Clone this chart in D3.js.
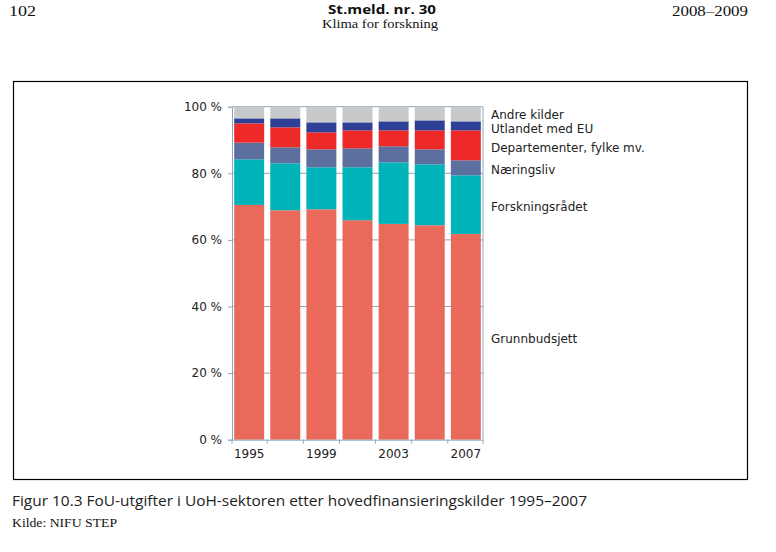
<!DOCTYPE html>
<html>
<head>
<meta charset="utf-8">
<script src="https://cdn.jsdelivr.net/npm/d3@7"></script>
<style>
  html, body { margin: 0; padding: 0; background: #fff; }
  svg { display: block; }
</style>
</head>
<body>
<svg id="chart" width="776" height="552"></svg>
<script>
const years = ["1995", "1997", "1999", "2001", "2003", "2005", "2007"];
const yearLabels = ["1995", "", "1999", "", "2003", "", "2007"];
const seriesNames = ["Grunnbudsjett", "Forskningsrådet", "Næringsliv", "Departementer, fylke mv.", "Utlandet med EU", "Andre kilder"];
const grunnbudsjett   = [70.5, 68.9, 69.2, 65.9, 64.8, 64.4, 61.8];
const forskningsradet = [13.7, 14.1, 12.6, 15.9, 18.5, 18.3, 17.6];
const naeringsliv     = [5.0, 4.8, 5.4, 5.7, 4.8, 4.5, 4.5];
const departementer   = [5.8, 6.0, 5.1, 5.4, 4.8, 5.7, 9.0];
const utlandet        = [1.5, 2.7, 3.0, 2.4, 2.7, 3.0, 2.7];
const andreKilder     = [3.5, 3.5, 4.7, 4.7, 4.4, 4.1, 4.4];
const yTicks = [0, 20, 40, 60, 80, 100];

const seriesValues = [grunnbudsjett, forskningsradet, naeringsliv, departementer, utlandet, andreKilder];
const colors = ["#E96A5A", "#00B3B8", "#5C6F9E", "#EE2A28", "#2E3F96", "#C8C9CB"];

const table = years.map((yr, i) => {
  const row = { year: yr };
  seriesNames.forEach((s, j) => row[s] = seriesValues[j][i]);
  return row;
});

const svg = d3.select("#chart");
const axisColor = "#8FA7BE";

// frame
svg.append("rect").attr("x", 13.5).attr("y", 81.5).attr("width", 734).attr("height", 398)
  .attr("fill", "none").attr("stroke", "#000").attr("stroke-width", 1.2);

// header
svg.append("text").attr("x", 9).attr("y", 16).attr("font-family", "Liberation Serif").attr("font-size", 15)
  .attr("textLength", 27).attr("lengthAdjust", "spacingAndGlyphs").attr("fill", "#111").text("102");
svg.append("text").attr("x", 672).attr("y", 16).attr("font-family", "Liberation Serif").attr("font-size", 15)
  .attr("textLength", 76).attr("lengthAdjust", "spacingAndGlyphs").attr("fill", "#111").text("2008–2009");
svg.append("text").attr("x", 328).attr("y", 13.5).attr("font-family", "Open Sans").attr("font-weight", "bold").attr("font-size", 13)
  .attr("textLength", 108).attr("lengthAdjust", "spacingAndGlyphs").attr("fill", "#111").text("St.meld. nr. 30");
svg.append("text").attr("x", 322).attr("y", 28).attr("font-family", "Liberation Serif").attr("font-size", 12.5)
  .attr("textLength", 116).attr("lengthAdjust", "spacingAndGlyphs").attr("fill", "#111").text("Klima for forskning");

// caption
svg.append("text").attr("x", 12).attr("y", 506).attr("font-family", "Open Sans").attr("font-size", 14.5)
  .attr("textLength", 575).attr("lengthAdjust", "spacingAndGlyphs").attr("fill", "#222")
  .text("Figur 10.3  FoU-utgifter i UoH-sektoren etter hovedfinansieringskilder 1995–2007");
svg.append("text").attr("x", 12).attr("y", 527).attr("font-family", "Liberation Serif").attr("font-size", 12.5)
  .attr("textLength", 105).attr("lengthAdjust", "spacingAndGlyphs").attr("fill", "#111")
  .text("Kilde: NIFU STEP");

// scales
const x = d3.scaleBand().domain(years).range([232, 483]).paddingInner(0.17).paddingOuter(0.06);
const y = d3.scaleLinear().domain([0, 100]).range([439.7, 106.7]);

// gridlines
svg.append("g").selectAll("line").data(yTicks.filter(t => t > 0)).join("line")
  .attr("x1", 232).attr("x2", 483).attr("y1", d => y(d)).attr("y2", d => y(d))
  .attr("stroke", axisColor).attr("stroke-width", 1);
// right border
svg.append("line").attr("x1", 483).attr("x2", 483).attr("y1", y(100)).attr("y2", y(0))
  .attr("stroke", axisColor).attr("stroke-width", 1);

// stacks
const stack = d3.stack().keys(seriesNames);
const stacked = stack(table);
svg.append("g").selectAll("g").data(stacked).join("g")
  .attr("fill", (d, i) => colors[i])
  .selectAll("rect").data(d => d).join("rect")
  .attr("x", d => x(d.data.year))
  .attr("width", x.bandwidth())
  .attr("y", d => y(d[1]))
  .attr("height", d => y(d[0]) - y(d[1]));

// y axis
const yAxis = svg.append("g").attr("transform", "translate(232,0)")
  .call(d3.axisLeft(y).tickValues(yTicks).tickSize(4).tickPadding(6).tickFormat(d => d + " %"));
yAxis.select(".domain").attr("stroke", axisColor);
yAxis.selectAll(".tick line").attr("stroke", axisColor);
yAxis.selectAll("text").attr("font-family", "DejaVu Sans").attr("font-size", 12).attr("fill", "#222");

// x axis
const xAxisG = svg.append("g").attr("transform", "translate(0," + y(0) + ")")
  .call(d3.axisBottom(x).tickSize(0).tickPadding(10).tickFormat((d, i) => yearLabels[i]));
xAxisG.select(".domain").attr("stroke", axisColor);
xAxisG.selectAll("text").attr("font-family", "DejaVu Sans").attr("font-size", 12).attr("fill", "#222");
// tick marks at band boundaries
const bounds = [x.range()[0]].concat(years.slice(1).map(yr => x(yr) - x.step() * x.paddingInner() / 2)).concat([x.range()[1]]);
svg.append("g").selectAll("line").data(bounds).join("line")
  .attr("x1", d => d).attr("x2", d => d).attr("y1", y(0)).attr("y2", y(0) + 4)
  .attr("stroke", axisColor);

// labels at the last bar's segment centres, de-overlapped
const last = stacked.map((s, i) => ({ name: seriesNames[i], pos: y((s[s.length - 1][0] + s[s.length - 1][1]) / 2) }));
const ordered = last.slice().sort((a, b) => a.pos - b.pos);
const minGap = 14;
for (let iter = 0; iter < 50; iter++) {
  let moved = false;
  for (let k = 1; k < ordered.length; k++) {
    const gap = ordered[k].pos - ordered[k - 1].pos;
    if (gap < minGap) {
      const shift = (minGap - gap) / 2;
      ordered[k - 1].pos -= shift;
      ordered[k].pos += shift;
      moved = true;
    }
  }
  if (!moved) break;
}
svg.append("g").selectAll("text").data(last).join("text")
  .attr("x", 491)
  .attr("y", d => d.pos + 2)
  .attr("dy", "0.35em")
  .attr("font-family", "DejaVu Sans").attr("font-size", 12).attr("fill", "#222")
  .text(d => d.name);
</script>
</body>
</html>
